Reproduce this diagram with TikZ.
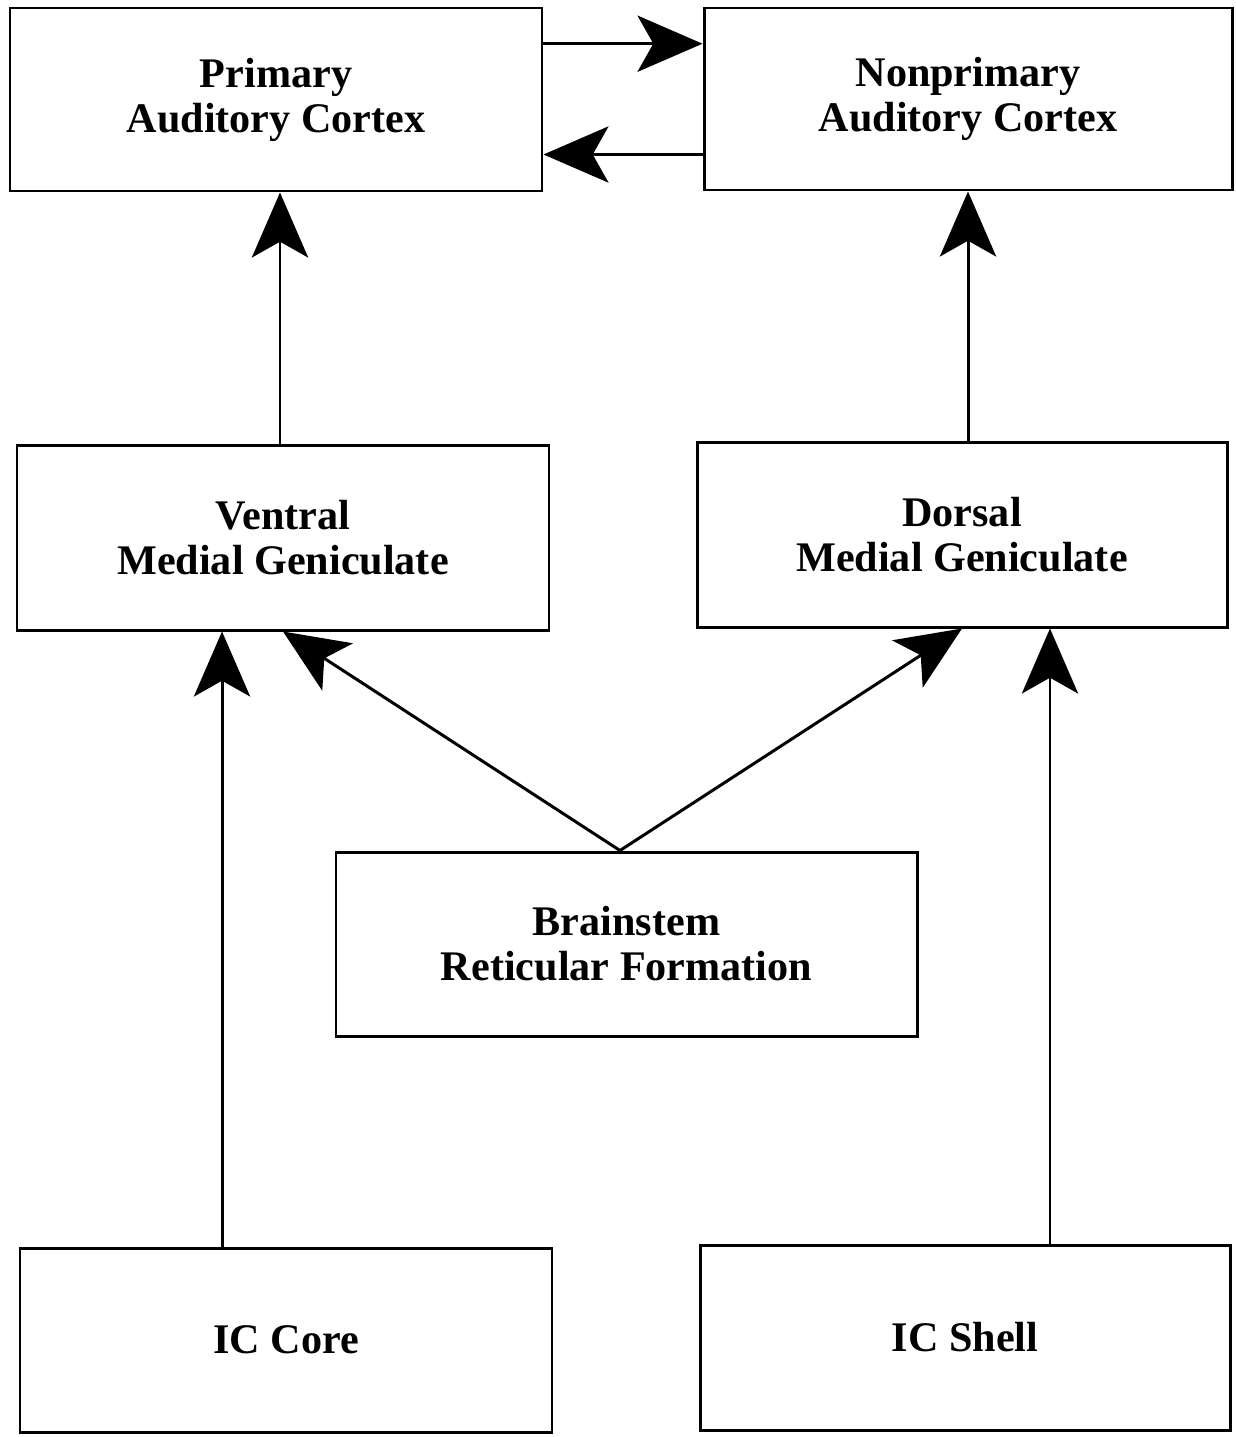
\documentclass[tikz,border=0pt]{standalone}
\usepackage{fontspec}
\setmainfont{Liberation Serif}
\usepackage{tikz}
\usetikzlibrary{arrows.meta, calc}

\begin{document}
\begin{tikzpicture}[x=0.02cm,y=-0.02cm,
		box/.style={draw,line width=1.7pt,align=center,inner sep=0pt,
			font=\fontsize{24}{25.6}\selectfont\bfseries},
		arr/.style={line width=1.7pt,-{Stealth[length=37pt,width=32pt,inset=9pt]}}]
		\useasboundingbox (0,0) rectangle (1236,1437);
		\node[box,minimum width=532*0.02cm,minimum height=183*0.02cm] (pac) at (276,99.5) {Primary\\Auditory Cortex};
		\node[box,minimum width=528*0.02cm,minimum height=182*0.02cm] (npac) at (968,99) {Nonprimary\\Auditory Cortex};
		\node[box,minimum width=532*0.02cm,minimum height=185*0.02cm] (vmg) at (283,537.5) {Ventral\\Medial Geniculate};
		\node[box,minimum width=530*0.02cm,minimum height=185*0.02cm] (dmg) at (962,534.5) {Dorsal\\Medial Geniculate};
		\node[box,minimum width=581*0.02cm,minimum height=184*0.02cm] (brf) at (626.5,944) {Brainstem\\Reticular Formation};
		\node[box,minimum width=532*0.02cm,minimum height=184*0.02cm] (core) at (286,1340) {IC Core};
		\node[box,minimum width=530*0.02cm,minimum height=185*0.02cm] (shell) at (965,1337.5) {IC Shell};
		% cortex to cortex
		\coordinate (t1) at ($(pac.north east)!0.2!(pac.south east)$);
		\coordinate (t2) at ($(npac.north west)!0.8!(npac.south west)$);
		\draw[arr] (t1) -- (t1 -| npac.west);
		\draw[arr] (t2) -- (t2 -| pac.east);
		% thalamus to cortex
		\draw[arr] ([xshift=-0.06cm]vmg.north) -- ([xshift=-0.06cm]vmg.north |- pac.south);
		\draw[arr] ([xshift=0.12cm]dmg.north) -- ([xshift=0.12cm]dmg.north |- npac.south);
		% midbrain to thalamus
		\draw[arr] ([xshift=-1.28cm]core.north) -- ([xshift=-1.28cm]core.north |- vmg.south);
		\draw[arr] ([xshift=1.7cm]shell.north) -- ([xshift=1.7cm]shell.north |- dmg.south);
		\draw[arr] ([xshift=-0.13cm]brf.north) -- (vmg.south);
		\draw[arr] ([xshift=-0.13cm]brf.north) -- (dmg.south);
	\end{tikzpicture}
\end{document}
